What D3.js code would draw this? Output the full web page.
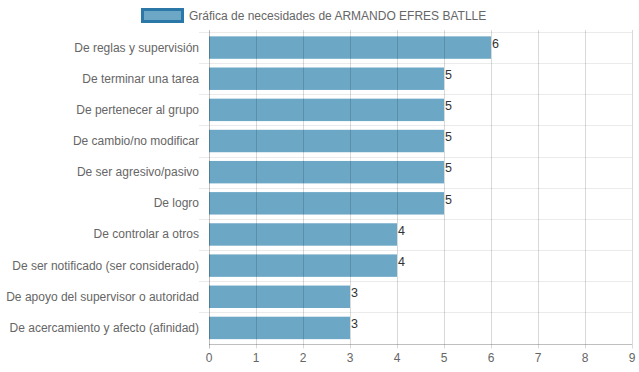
<!DOCTYPE html>
<html>
<head>
<meta charset="utf-8">
<script src="https://cdn.jsdelivr.net/npm/d3@7"></script>
<style>
  body { margin: 0; background: #fff; }
  text { font-family: "Liberation Sans", Arial, sans-serif; }
</style>
</head>
<body>
<div id="chart"></div>
<script>
const categories = [
  "De reglas y supervisión",
  "De terminar una tarea",
  "De pertenecer al grupo",
  "De cambio/no modificar",
  "De ser agresivo/pasivo",
  "De logro",
  "De controlar a otros",
  "De ser notificado (ser considerado)",
  "De apoyo del supervisor o autoridad",
  "De acercamiento y afecto (afinidad)"
];
const values = [6, 5, 5, 5, 5, 5, 4, 4, 3, 3];
const xTicks = [0, 1, 2, 3, 4, 5, 6, 7, 8, 9];
const seriesName = "Gráfica de necesidades de ARMANDO EFRES BATLLE";

const W = 639, H = 372;
const margin = {top: 32, right: 7, bottom: 28.5, left: 209};

const svg = d3.select("#chart").append("svg")
  .attr("width", W).attr("height", H);

const x = d3.scaleLinear().domain([0, 9]).range([margin.left, W - margin.right]);
const y = d3.scaleBand().domain(categories)
  .range([margin.top, H - margin.bottom]);

// horizontal grid lines (category borders)
const borders = categories.map(c => y(c));
svg.append("g").selectAll("line").data(borders).enter().append("line")
  .attr("x1", margin.left - 10).attr("x2", W - margin.right)
  .attr("y1", d => Math.round(d) + 0.5).attr("y2", d => Math.round(d) + 0.5)
  .attr("stroke", "#ebebeb").attr("stroke-width", 1);

// bars
const inner = y.bandwidth() * 0.72;
svg.append("g").selectAll("rect").data(values).enter().append("rect")
  .attr("x", x(0))
  .attr("y", (d, i) => y(categories[i]) + (y.bandwidth() - inner) / 2)
  .attr("width", d => x(d) - x(0))
  .attr("height", inner)
  .attr("fill", "#6ca7c6");

// vertical grid lines (on top, translucent)
svg.append("g").selectAll("line").data(xTicks).enter().append("line")
  .attr("x1", d => Math.round(x(d)) + 0.5).attr("x2", d => Math.round(x(d)) + 0.5)
  .attr("y1", margin.top - 2).attr("y2", H - margin.bottom + 5)
  .attr("stroke", d => d === 0 ? "rgba(0,0,0,0.25)" : "rgba(0,0,0,0.15)")
  .attr("stroke-width", 1);

// x axis line
svg.append("line")
  .attr("x1", margin.left).attr("x2", W - margin.right)
  .attr("y1", Math.round(H - margin.bottom) + 0.5).attr("y2", Math.round(H - margin.bottom) + 0.5)
  .attr("stroke", "rgba(0,0,0,0.25)");

// x tick labels
svg.append("g").selectAll("text").data(xTicks).enter().append("text")
  .attr("x", d => x(d)).attr("y", H - margin.bottom + 18)
  .attr("text-anchor", "middle")
  .attr("font-size", 12).attr("fill", "#666")
  .text(d => d);

// y labels
svg.append("g").selectAll("text").data(categories).enter().append("text")
  .attr("x", margin.left - 10)
  .attr("y", d => y(d) + y.bandwidth() / 2 + 4)
  .attr("text-anchor", "end")
  .attr("font-size", 12).attr("fill", "#666")
  .text(d => d);

// value labels
svg.append("g").selectAll("text").data(values).enter().append("text")
  .attr("x", d => x(d) + 1)
  .attr("y", (d, i) => y(categories[i]) + (y.bandwidth() - inner) / 2 + 11.5)
  .attr("font-size", 12.5).attr("fill", "#333")
  .text(d => d);

// legend
svg.append("rect")
  .attr("x", 142.5).attr("y", 9.5).attr("width", 40).attr("height", 12)
  .attr("fill", "#6ca7c6").attr("stroke", "#2b78a8").attr("stroke-width", 3);
svg.append("text")
  .attr("x", 189).attr("y", 20)
  .attr("font-size", 12).attr("fill", "#666")
  .text(seriesName);
</script>
</body>
</html>
